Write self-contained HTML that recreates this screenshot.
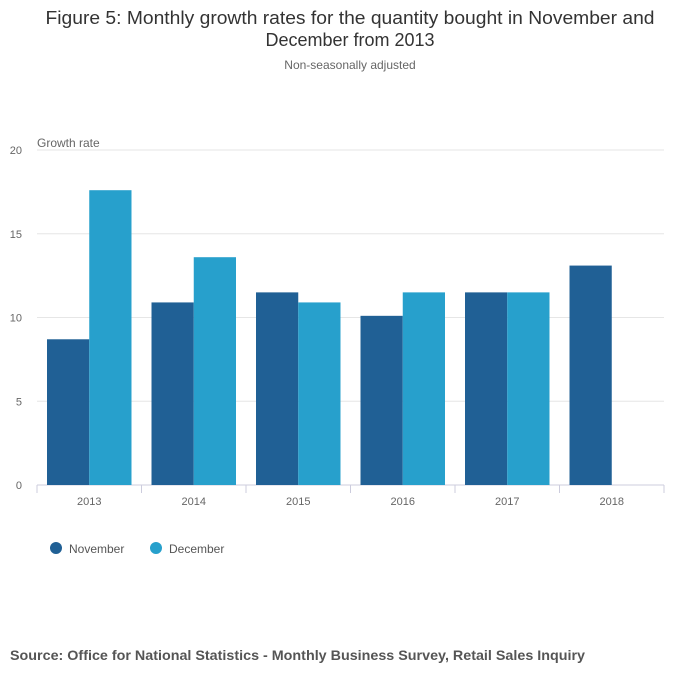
<!DOCTYPE html>
<html><head><meta charset="utf-8"><style>
body{margin:0;background:#fff;font-family:"Liberation Sans",sans-serif;}
</style></head><body>
<svg id="chart" width="700" height="682" xmlns="http://www.w3.org/2000/svg" font-family="Liberation Sans, sans-serif">
<text x="350" y="24" text-anchor="middle" font-size="18" fill="#333" textLength="609" lengthAdjust="spacingAndGlyphs">Figure 5: Monthly growth rates for the quantity bought in November and</text>
<text x="350" y="46" text-anchor="middle" font-size="18" fill="#333">December from 2013</text>
<text x="350" y="69" text-anchor="middle" font-size="12" fill="#666">Non-seasonally adjusted</text>
<text x="37" y="147" font-size="12" fill="#666">Growth rate</text>
<g id="grid"></g><g id="bars"></g><g id="xaxis"></g>
<g>
<circle cx="56" cy="548" r="6" fill="#206095"/>
<text x="69" y="553" font-size="12" fill="#555">November</text>
<circle cx="156" cy="548" r="6" fill="#27a0cc"/>
<text x="169" y="553" font-size="12" fill="#555">December</text>
</g>
<text x="10" y="660" font-size="14" font-weight="bold" fill="#555" textLength="575" lengthAdjust="spacingAndGlyphs">Source: Office for National Statistics - Monthly Business Survey, Retail Sales Inquiry</text>
</svg>
<script>
const categories=["2013","2014","2015","2016","2017","2018"];
const november=[8.7,10.9,11.5,10.1,11.5,13.1];
const december=[17.6,13.6,10.9,11.5,11.5,null];
const yTicks=[0,5,10,15,20];
const NS="http://www.w3.org/2000/svg";
const x0=37,x1=664,yBase=485,yTop=150,yMax=20;
const bw=(x1-x0)/categories.length;
function y(v){return yBase-(v/yMax)*(yBase-yTop);}
function xc(i){return x0+bw*i;}
function mk(t,a,p){const e=document.createElementNS(NS,t);for(const k in a)e.setAttribute(k,a[k]);p.appendChild(e);return e;}
const grid=document.getElementById('grid'),bars=document.getElementById('bars'),xa=document.getElementById('xaxis');
yTicks.forEach(v=>{
 const l=mk('line',{x1:x0,x2:x1,y1:y(v),y2:y(v),stroke:v===0?'#ccd':'#e6e6e6'},grid);
 
 
 const t=mk('text',{x:22,y:y(v)+4,'text-anchor':'end','font-size':11,fill:'#666'},grid);
 t.textContent=v;
 
 
});
const pad=10,barW=(bw-2*pad)/2;
categories.forEach((c,i)=>{
 [[november,'#206095','november'],[december,'#27a0cc','december']].forEach((s,j)=>{
  const v=s[0][i]; if(v==null)return;
  const r=mk('rect',{x:xc(i)+pad+j*barW,y:y(v),width:barW,height:yBase-y(v),fill:s[1]},bars);
  
  
 });
 const tk=mk('line',{x1:xc(i),x2:xc(i),y1:yBase,y2:yBase+8,stroke:'#ccd'},xa);
 
 
 const t=mk('text',{x:xc(i)+bw/2,y:yBase+20,'text-anchor':'middle','font-size':11,fill:'#666'},xa);
 t.textContent=c;
 
 
});
const te=mk('line',{x1:x1,x2:x1,y1:yBase,y2:yBase+8,stroke:'#ccd'},xa);


</script>
</body></html>
